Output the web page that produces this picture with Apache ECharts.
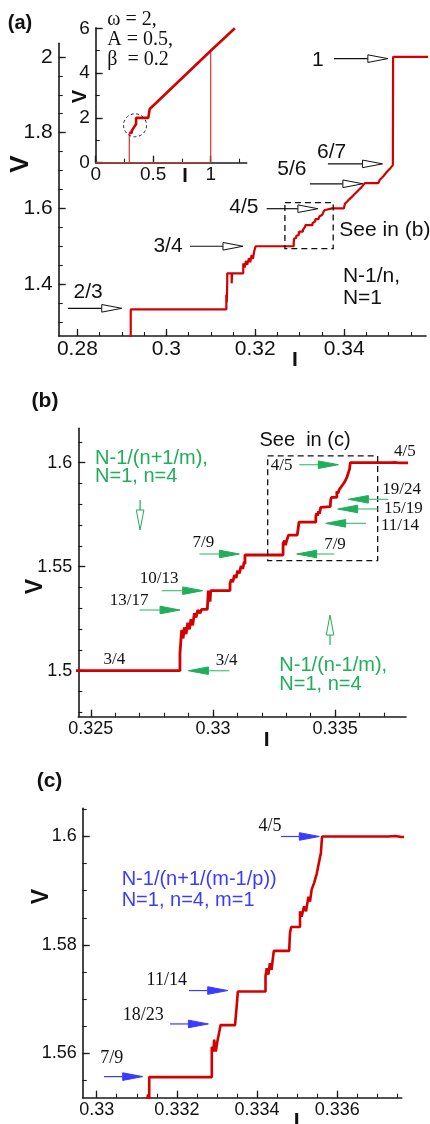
<!DOCTYPE html>
<html><head><meta charset="utf-8">
<script src="https://cdn.jsdelivr.net/npm/echarts@6/dist/echarts.min.js"></script>
<style>html,body{margin:0;padding:0;background:#fff}#c{width:430px;height:1124px}</style>
</head><body><div id="c"></div>
<script>
// ---- I-V curve (same curve shown in all three panels) ----
const curveI = [0.2920,0.2920,0.3135,0.3135,0.3136,0.3137,0.3137,0.3147,0.3147,0.3148,0.3173,0.3173,0.31762,0.31791,0.31820,0.31858,0.31888,0.31919,0.31948,0.31978,0.32009,
 0.32865,0.32865,0.32872,0.32878,0.32883,0.32890,0.32897,0.32904,0.32910,0.32917,0.32924,0.32931,0.32938,0.32947,0.32954,0.32977,0.32981,0.32988,0.32988,0.32991,
 0.33070,0.33070,0.33075,0.33081,0.33088,0.33095,0.33101,0.33108,0.33115,0.33122,0.33128,0.33131,0.33131,
 0.33287,0.33287,0.33291,0.33293,0.33297,0.33301,0.33305,0.33309,0.33345,0.33349,0.33352,
 0.33421,0.33421,0.33424,0.33428,0.33432,0.33436,0.33441,0.33442,0.33480,0.33482,0.33485,0.33507,0.33507,0.33511,0.33517,0.33522,0.33528,0.33532,0.33536,0.33542,0.33549,0.33554,0.33559,0.33562,
 0.33727,0.33730,0.33745,0.33760,0.33993,0.34016,0.34053,0.34090,0.34128,0.34166,0.34203,0.34241,0.34278,0.34315,0.34353,0.34391,0.34465,0.34764,0.34802,0.34876,0.34953,0.35027,0.35095,0.35100,0.3590];
const curveV = [1.20,1.3333,1.3333,1.372,1.352,1.405,1.4286,1.4286,1.402,1.4286,1.4286,1.4545,1.444,1.4614,1.4509,1.4684,1.4579,1.4772,1.4666,1.4876,1.5,
 1.5,1.5083,1.5196,1.5155,1.5208,1.5176,1.5231,1.5199,1.5247,1.5218,1.5276,1.5256,1.5292,1.5276,1.5295,1.5295,1.5385,1.5385,1.5332,1.5385,
 1.5385,1.5420,1.5439,1.5426,1.5460,1.5446,1.5481,1.5468,1.5503,1.5490,1.5524,1.5512,1.5556,
 1.5556,1.5612,1.5603,1.5625,1.5603,1.5622,1.5637,1.5652,1.5652,1.5686,1.5714,
 1.5714,1.5742,1.5757,1.5745,1.5766,1.5754,1.5785,1.5789,1.5789,1.5822,1.5833,1.5833,1.5862,1.5852,1.5871,1.5862,1.5889,1.5880,1.5902,1.5914,1.5932,1.5951,1.5969,1.6,
 1.6,1.6003,1.6001,1.5999,1.6,1.6124,1.6150,1.6211,1.6240,1.6297,1.6330,1.6387,1.6420,1.6474,1.6505,1.6561,1.6667,1.6667,1.6755,1.6842,1.6955,1.7045,1.7143,2.0,2.0];

// ---- inset (full I-V) ----
const insetUpI = [0.292,0.3135,0.3137,0.3201,0.3287,0.3356,0.3399,0.3447,0.3476,0.3510,0.3510,0.457,0.470,1.000,1.210];
const insetUpV = [1.333,1.333,1.4286,1.5,1.5,1.6,1.6,1.6667,1.6667,1.7143,2.0,2.0,2.40,5.0,6.0];
const insetThinI = [0,0.292,0.292];
const insetThinV = [0,0,1.333];
const insetBackI = [1.0,1.0,0];
const insetBackV = [5.0,0,0];

// ---- tick values ----
const ticksAx = [0.28,0.3,0.32,0.34];
const ticksAy = [1.4,1.6,1.8,2];
const ticksInx = [0,0.5,1];
const ticksIny = [0,2,4,6];
const ticksBx = [0.325,0.33,0.335];
const ticksBy = [1.5,1.55,1.6];
const ticksCx = [0.33,0.332,0.334,0.336];
const ticksCy = [1.56,1.58,1.6];

// ---- annotations (data coordinates) ----
const textsA = [['2/3',0.2824,1.3789],['3/4',0.30038,1.5008],['4/5',0.31746,1.6034],['5/6',0.32825,1.7026],['6/7',0.33717,1.7482],['1',0.33409,1.9913],['See in (b)',0.34915,1.5421]];
const textsAleft = [['N-1/n,',0.33971,1.4211],['N=1',0.33971,1.364]];
const arrowsA = [[0.2779,1.3361,0.28998,1.3361],[0.30533,1.5,0.31724,1.5],[0.32256,1.5992,0.33409,1.5992],[0.33229,1.665,0.34420,1.665],[0.33634,1.7176,0.34863,1.7176],[0.33769,1.9955,0.34982,1.9955]];
const rectA = [[0.32667,1.615,0.33753,1.4939]];
const circleIn = [[0.342,1.67]];

const textsBgreen = [['N-1/(n+1/m),',0.325177,1.60208],['N=1, n=4',0.325177,1.59327],['N-1/(n-1/m),',0.332718,1.50272],['N=1, n=4',0.332718,1.49359]];
const textsBsans = [['See  in (c)',0.333767,1.61058]];
const textsBserif = [['3/4',0.325968,1.50545],['3/4',0.330563,1.50513],['13/17',0.326568,1.53365],['10/13',0.327795,1.54439],['7/9',0.329609,1.5617],['4/5',0.332813,1.5984],['4/5',0.337858,1.60529],['19/24',0.337722,1.58686],['15/19',0.337790,1.57804],['11/14',0.337654,1.56971],['7/9',0.334995,1.56074]];
const arrowsB = [[0.330672,1.5,0.328995,1.5],[0.327,1.52917,0.328654,1.52917],[0.327905,1.53846,0.329582,1.53846],[0.329446,1.55609,0.331082,1.55609],[0.333536,1.599,0.335131,1.599],[0.337177,1.58237,0.33554,1.58237],[0.33674,1.57772,0.335104,1.57772],[0.336263,1.57083,0.334613,1.57083],[0.334968,1.55609,0.333427,1.55609]];
const arrowsBhollow = [[0.327018,1.58205,0.327018,1.56763],[0.334791,1.51234,0.334791,1.52676]];
const rectB = [[0.3322403,1.6032,0.33674,1.55288]];

const textsCserif = [['4/5',0.334323,1.60197],['11/14',0.331746,1.57354],['18/23',0.331164,1.56708],['7/9',0.330374,1.55908]];
const textsCblue = [['N-1/(n+1/(m-1/p))',0.330623,1.592],['N=1, n=4, m=1',0.330623,1.58818]];
const arrowsC = [[0.334597,1.6,0.335553,1.6],[0.332302,1.57157,0.333267,1.57157],[0.331829,1.56541,0.332785,1.56541],[0.330183,1.55569,0.331147,1.55569]];

// ---- styles ----
const RED = '#d40000', GREEN = '#1fae5a', GREEN_L = '#46c27c', BLUE = '#3b3bff', AX = '#1a1a1a';
const SANS = 'Liberation Sans, Arial, sans-serif', SERIF = 'Liberation Serif, Times New Roman, serif';

function range(a, b, step) { const out = []; const n = Math.round((b - a) / step); for (let i = 0; i <= n; i++) out.push(+(a + i * step).toFixed(6)); return out; }

function axes(dim, grid, min, max, majors, minors, fs, margin) {
  const pos = dim === 'x' ? 'bottom' : 'left';
  const main = { type: 'value', gridIndex: grid, min, max, position: pos,
    axisLine: { show: true, onZero: false, lineStyle: { color: AX, width: 1.6 } },
    axisTick: { show: true, inside: true, length: 7, customValues: majors, lineStyle: { color: AX, width: 1.3 } },
    axisLabel: { show: true, customValues: majors, fontSize: fs, fontFamily: SANS, color: '#111', margin, showMinLabel: true, showMaxLabel: true },
    splitLine: { show: false } };
  const minor = { type: 'value', gridIndex: grid, min, max, position: pos,
    axisLine: { show: false, onZero: false },
    axisTick: { show: true, inside: true, length: 4, customValues: minors, lineStyle: { color: AX, width: 1.1 } },
    axisLabel: { show: false }, splitLine: { show: false } };
  return [main, minor];
}

const grids = [
  { left: 58.7, top: 43.3, width: 367.3, height: 292.7 },
  { left: 95.7, top: 27.7, width: 151, height: 135 },
  { left: 78.3, top: 428.3, width: 327.7, height: 288.4 },
  { left: 82.7, top: 808.3, width: 319, height: 289.4 }
];
const xAxis = [].concat(
  axes('x', 0, 0.2758, 0.3584, ticksAx, range(0.28, 0.355, 0.005), 21, 3),
  axes('x', 1, 0, 1.313, ticksInx, range(0, 1.25, 0.25), 19, 3),
  axes('x', 2, 0.32449, 0.3379, ticksBx, range(0.325, 0.337, 0.001), 18, 3),
  axes('x', 3, 0.329651, 0.337606, ticksCx, range(0.33, 0.3375, 0.0005), 18, 3)
);
const yAxis = [].concat(
  axes('y', 0, 1.263, 2.036, ticksAy, range(1.3, 2.0, 0.05), 21, 6),
  axes('y', 1, 0, 6.027, ticksIny, range(0, 6, 1), 19, 6),
  axes('y', 2, 1.4779, 1.6165, ticksBy, range(1.48, 1.61, 0.01), 18, 6),
  axes('y', 3, 1.5518, 1.6052, ticksCy, range(1.555, 1.605, 0.005), 18, 6)
);

const zip = (a, b) => a.map((v, i) => [v, b[i]]);
const curve = zip(curveI, curveV);

function lineSeries(ax, data, color, w) {
  return { type: 'line', xAxisIndex: ax, yAxisIndex: ax, data, showSymbol: false, symbol: 'none', clip: true,
    lineStyle: { color, width: w }, silent: true, animation: false, z: 3 };
}
function textSeries(ax, items, color, family, size, align) {
  return { type: 'custom', xAxisIndex: ax, yAxisIndex: ax, data: items.map(t => [t[1], t[2]]), silent: true, animation: false, z: 5,
    renderItem: (p, api) => { const c = api.coord([api.value(0), api.value(1)]);
      return { type: 'text', x: c[0], y: c[1], style: { text: items[p.dataIndex][0], fill: color, fontFamily: family, fontSize: size, align: align || 'center', verticalAlign: 'middle' } }; } };
}
function arrowSeries(ax, items, color, lineColor, hollow) {
  return { type: 'custom', xAxisIndex: ax, yAxisIndex: ax, data: items, silent: true, animation: false, z: 5,
    renderItem: (p, api) => {
      const a = api.coord([api.value(0), api.value(1)]), b = api.coord([api.value(2), api.value(3)]);
      const dx = b[0] - a[0], dy = b[1] - a[1], L = Math.hypot(dx, dy), ux = dx / L, uy = dy / L;
      const hl = 20, hw = 3.8, bx = b[0] - ux * hl, by = b[1] - uy * hl, px = -uy, py = ux;
      return { type: 'group', children: [
        { type: 'line', shape: { x1: a[0], y1: a[1], x2: bx, y2: by }, style: { stroke: lineColor, lineWidth: 1.2 } },
        { type: 'polygon', shape: { points: [[b[0], b[1]], [bx + px * hw, by + py * hw], [bx - px * hw, by - py * hw]] },
          style: { fill: hollow ? '#fff' : color, stroke: color, lineWidth: 1 } } ] };
    } };
}
function rectSeries(ax, items) {
  return { type: 'custom', xAxisIndex: ax, yAxisIndex: ax, data: items, silent: true, animation: false, z: 4,
    renderItem: (p, api) => { const a = api.coord([api.value(0), api.value(1)]), b = api.coord([api.value(2), api.value(3)]);
      return { type: 'rect', shape: { x: Math.min(a[0], b[0]), y: Math.min(a[1], b[1]), width: Math.abs(b[0] - a[0]), height: Math.abs(b[1] - a[1]) },
        style: { fill: 'none', stroke: '#111', lineWidth: 1.3, lineDash: [6, 4] } }; } };
}

const series = [
  lineSeries(0, curve, RED, 2.2),
  lineSeries(4, curve, RED, 2.8),
  lineSeries(6, curve, RED, 2.6),
  lineSeries(2, zip(insetThinI, insetThinV), '#d83030', 1.2),
  lineSeries(2, zip(insetBackI, insetBackV), '#d83030', 1.2),
  lineSeries(2, zip(insetUpI, insetUpV), RED, 2.6),
  textSeries(0, textsA, '#111', SANS, 21),
  textSeries(0, textsAleft, '#111', SANS, 21, 'left'),
  arrowSeries(0, arrowsA, '#111', '#111', true),
  rectSeries(0, rectA),
  { type: 'custom', xAxisIndex: 2, yAxisIndex: 2, data: circleIn, silent: true, animation: false, z: 5,
    renderItem: (p, api) => { const c = api.coord([api.value(0), api.value(1)]);
      return { type: 'circle', shape: { cx: c[0], cy: c[1], r: 11.5 }, style: { fill: 'none', stroke: '#222', lineWidth: 1, lineDash: [3, 2.5] } }; } },
  textSeries(4, textsBgreen, GREEN, SANS, 20, 'left'),
  textSeries(4, textsBsans, '#111', SANS, 20),
  textSeries(4, textsBserif, '#111', SERIF, 17),
  arrowSeries(4, arrowsB, GREEN, GREEN_L, false),
  arrowSeries(4, arrowsBhollow, GREEN, GREEN, true),
  rectSeries(4, rectB),
  textSeries(6, textsCserif, '#111', SERIF, 18),
  textSeries(6, textsCblue, BLUE, SANS, 20, 'left'),
  arrowSeries(6, arrowsC, BLUE, BLUE, false)
];

function gt(text, x, y, size, opts) {
  opts = opts || {};
  return { type: 'text', x, y, rotation: opts.rot || 0, silent: true,
    style: { text, fill: '#111', fontFamily: opts.family || SANS, fontSize: size, fontWeight: opts.weight || 'bold', align: opts.align || 'center', verticalAlign: 'middle' } };
}
const graphic = [
  gt('(a)', 20, 23.5, 20),
  gt('(b)', 45, 401, 21),
  gt('(c)', 49.5, 781, 21),
  gt('V', 21, 164, 26, { rot: Math.PI / 2 }),
  gt('I', 295, 360.7, 21),
  gt('V', 80, 96.7, 20, { rot: Math.PI / 2 }),
  gt('I', 185, 176, 20),
  gt('V', 36, 586.7, 23, { rot: Math.PI / 2 }),
  gt('I', 266.7, 740, 21),
  gt('V', 41.7, 896.7, 23, { rot: Math.PI / 2 }),
  gt('I', 296.7, 1121, 21),
  gt('ω = 2,', 107.3, 19.3, 20, { family: SERIF, weight: 'normal', align: 'left' }),
  gt('A = 0.5,', 107.3, 40, 20, { family: SERIF, weight: 'normal', align: 'left' }),
  gt('β  = 0.2', 107.3, 59.3, 20, { family: SERIF, weight: 'normal', align: 'left' })
];

const chart = echarts.init(document.getElementById('c'), null, { renderer: 'canvas' });
chart.setOption({ animation: false, backgroundColor: '#fff', grid: grids, xAxis, yAxis, series, graphic });
</script></body></html>
